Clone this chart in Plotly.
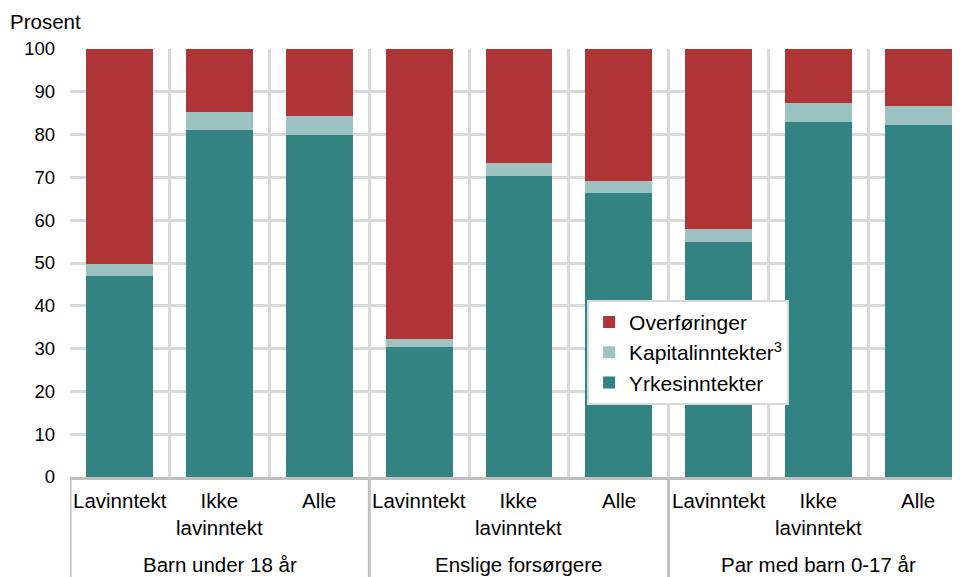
import plotly.graph_objects as go

# Data (percent of total income)
groups = ['Barn under 18 år', 'Enslige forsørgere', 'Par med barn 0-17 år']
subcats = ['Lavinntekt', 'Ikke<br>lavinntekt', 'Alle']

yrkes = [47.0, 81.0, 80.0, 30.4, 70.4, 66.3, 55.0, 82.9, 82.3]
kapital = [2.8, 4.3, 4.3, 1.8, 3.0, 2.9, 3.0, 4.5, 4.4]
overf = [50.2, 14.7, 15.7, 67.8, 26.6, 30.8, 42.0, 12.6, 13.3]

series = [
    ('Yrkesinntekter', yrkes, '#348383'),
    ('Kapitalinntekter<sup>3</sup>', kapital, '#9cc2c2'),
    ('Overføringer', overf, '#ae3435'),
]

FONT = 'Liberation Sans, Arial, sans-serif'
n = len(groups) * len(subcats)
xs = list(range(n))

fig = go.Figure()
for name, vals, color in series:
    fig.add_trace(go.Bar(x=xs, y=vals, name=name, width=0.67,
                         marker=dict(color=color, line=dict(width=0))))

# category labels under the axis
annotations = []
for i in xs:
    annotations.append(dict(x=i, y=0, xref='x', yref='paper', text=subcats[i % 3],
                            showarrow=False, yanchor='top', yshift=-10,
                            font=dict(size=20.5, color='black')))
for g, name in enumerate(groups):
    annotations.append(dict(x=g * 3 + 1, y=0, xref='x', yref='paper', text=name,
                            showarrow=False, yanchor='top', yshift=-74,
                            font=dict(size=20.5, color='black')))
annotations.append(dict(x=-0.07, y=1, xref='paper', yref='paper', text='Prosent',
                        showarrow=False, xanchor='left', yanchor='bottom', yshift=14,
                        font=dict(size=20.5, color='black')))

# group separators running down through the label area
shapes = []
for g in range(len(groups)):
    shapes.append(dict(type='line', xref='x', yref='paper', x0=g * 3 - 0.5, x1=g * 3 - 0.5,
                       y0=0, y1=-0.24, line=dict(color='#bfbfbf', width=3)))

fig.update_layout(
    width=960, height=577,
    margin=dict(l=62, r=8, t=41, b=108),
    barmode='stack',
    plot_bgcolor='white', paper_bgcolor='white',
    font=dict(family=FONT, size=19, color='black'),
    showlegend=True,
    legend=dict(x=0.581, y=0.414, xanchor='left', yanchor='top',
                traceorder='reversed', bgcolor='white',
                bordercolor='#d9d9d9', borderwidth=2,
                font=dict(size=21, color='black')),
    annotations=annotations,
    shapes=shapes,
)
fig.update_xaxes(range=[-0.5, 8.42], tickvals=[i - 0.5 for i in range(n + 1)],
                 showticklabels=False, ticks='', showgrid=True,
                 gridcolor='#d9d9d9', gridwidth=3,
                 showline=True, linecolor='#bfbfbf', linewidth=3, zeroline=False)
fig.update_yaxes(range=[0, 100], dtick=10, showgrid=True, gridcolor='#d9d9d9',
                 gridwidth=3, zeroline=False, ticks='', ticklabelstandoff=14,
                 tickfont=dict(size=18.5, color='black'))

fig.write_html('out.html')
